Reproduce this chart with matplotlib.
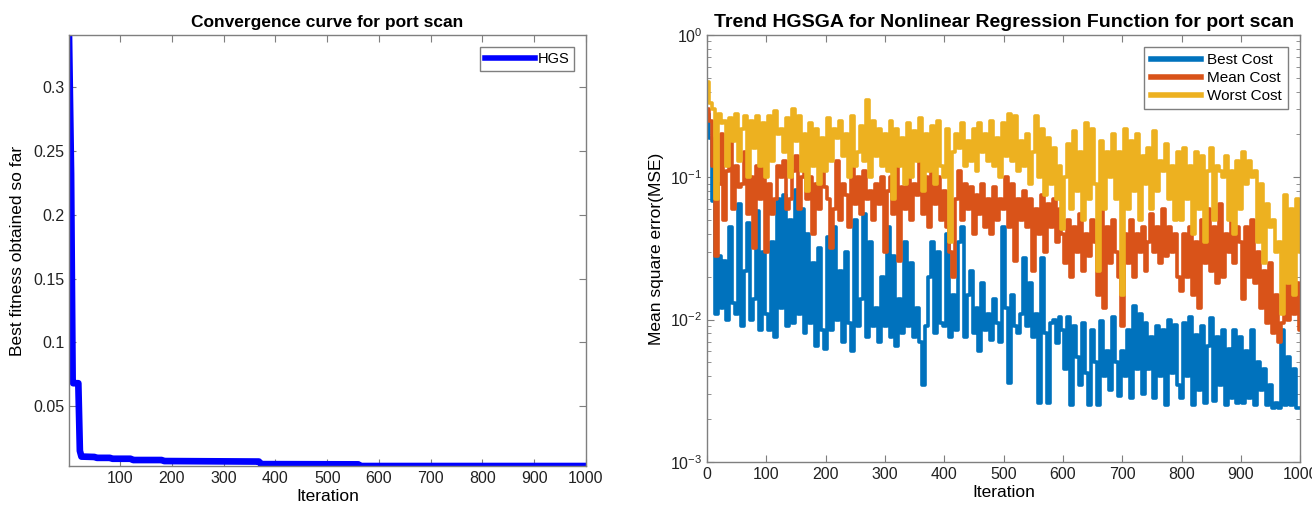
import numpy as np
import matplotlib
matplotlib.use("Agg")
import matplotlib.pyplot as plt
from matplotlib.ticker import LogLocator, NullFormatter

plt.rcParams['font.family'] = ['Liberation Sans', 'DejaVu Sans']

# ---- left panel: HGS convergence curve (change points of the best-so-far value)
hgs_iter = [1, 5, 8, 9, 19, 22, 25, 50, 55, 80, 85, 120, 125, 180, 185, 368, 372, 560, 564, 1000]
hgs_best = [0.34, 0.232, 0.07, 0.068, 0.068, 0.015, 0.0105, 0.0102, 0.0095, 0.0095, 0.0088,
            0.0088, 0.0078, 0.0078, 0.007, 0.0066, 0.0046, 0.0044, 0.0031, 0.0031]

# ---- right panel: HGSGA trend, sampled every 5 iterations (0..1000)
iters = np.arange(0, 1001, 5)

best_cost = [
    0.28, 0.19, 0.068, 0.011, 0.028, 0.012, 0.026, 0.010, 0.045, 0.013, 0.011, 0.065, 0.009, 0.022, 0.048, 0.010, 0.014, 0.058, 0.0085, 0.03,
    0.011, 0.0085, 0.035, 0.0075, 0.07, 0.012, 0.075, 0.009, 0.05, 0.0095, 0.082, 0.011, 0.06, 0.008, 0.04, 0.0095, 0.025, 0.0065, 0.032, 0.0085,
    0.0062, 0.038, 0.0085, 0.045, 0.010, 0.022, 0.007, 0.03, 0.0095, 0.006, 0.05, 0.009, 0.014, 0.055, 0.0075, 0.035, 0.009, 0.012, 0.007, 0.02,
    0.009, 0.045, 0.0075, 0.028, 0.0065, 0.014, 0.008, 0.035, 0.009, 0.025, 0.0075, 0.012, 0.007, 0.0035, 0.009, 0.02, 0.035, 0.008, 0.03, 0.0095,
    0.009, 0.04, 0.0075, 0.015, 0.0085, 0.035, 0.045, 0.0075, 0.015, 0.022, 0.008, 0.012, 0.006, 0.018, 0.0085, 0.011, 0.0072, 0.014, 0.0095, 0.007,
    0.045, 0.012, 0.0036, 0.015, 0.009, 0.008, 0.011, 0.027, 0.009, 0.018, 0.0075, 0.011, 0.0026, 0.027, 0.008, 0.0026, 0.0095, 0.01, 0.0068, 0.0105,
    0.0085, 0.0045, 0.0105, 0.0025, 0.009, 0.0055, 0.0035, 0.0095, 0.0042, 0.0025, 0.0085, 0.005, 0.0025, 0.0098, 0.004, 0.006, 0.0032, 0.0105, 0.005, 0.0029,
    0.006, 0.004, 0.0085, 0.0028, 0.0125, 0.0045, 0.011, 0.003, 0.0095, 0.0045, 0.0075, 0.0028, 0.009, 0.004, 0.0085, 0.0025, 0.01, 0.0042, 0.0092, 0.0035,
    0.0028, 0.0095, 0.004, 0.0105, 0.0025, 0.0078, 0.0032, 0.009, 0.0026, 0.0065, 0.0102, 0.0027, 0.0075, 0.0035, 0.0085, 0.0025, 0.0062, 0.0028, 0.0085, 0.0026,
    0.0075, 0.0026, 0.006, 0.0028, 0.0085, 0.0025, 0.005, 0.0032, 0.0045, 0.0025, 0.0035, 0.0024, 0.0026, 0.0024, 0.0085, 0.0025, 0.0055, 0.0025, 0.0045, 0.0024,
    0.0024,
]

mean_cost = [
    0.30, 0.25, 0.12, 0.028, 0.09, 0.2, 0.05, 0.11, 0.19, 0.06, 0.12, 0.085, 0.09, 0.15, 0.055, 0.10, 0.032, 0.12, 0.07, 0.15,
    0.03, 0.09, 0.055, 0.07, 0.12, 0.1, 0.13, 0.06, 0.07, 0.11, 0.14, 0.06, 0.1, 0.15, 0.07, 0.1, 0.04, 0.09, 0.06, 0.11,
    0.085, 0.07, 0.032, 0.06, 0.13, 0.05, 0.09, 0.075, 0.045, 0.12, 0.065, 0.1, 0.055, 0.11, 0.07, 0.08, 0.05, 0.09, 0.065, 0.1,
    0.03, 0.08, 0.1, 0.055, 0.12, 0.026, 0.085, 0.06, 0.11, 0.05, 0.09, 0.075, 0.14, 0.055, 0.1, 0.045, 0.12, 0.065, 0.1, 0.05,
    0.08, 0.045, 0.03, 0.02, 0.07, 0.11, 0.05, 0.09, 0.06, 0.085, 0.04, 0.075, 0.055, 0.09, 0.045, 0.07, 0.04, 0.085, 0.05, 0.07,
    0.06, 0.1, 0.045, 0.09, 0.026, 0.07, 0.05, 0.08, 0.045, 0.07, 0.022, 0.06, 0.04, 0.075, 0.03, 0.065, 0.045, 0.07, 0.035, 0.06,
    0.04, 0.025, 0.05, 0.02, 0.045, 0.03, 0.055, 0.022, 0.04, 0.028, 0.05, 0.035, 0.015, 0.06, 0.012, 0.045, 0.025, 0.05, 0.03, 0.02,
    0.009, 0.04, 0.025, 0.05, 0.02, 0.04, 0.03, 0.045, 0.022, 0.035, 0.055, 0.03, 0.045, 0.025, 0.06, 0.028, 0.045, 0.03, 0.04, 0.02,
    0.016, 0.04, 0.02, 0.045, 0.015, 0.035, 0.012, 0.05, 0.025, 0.06, 0.022, 0.045, 0.018, 0.065, 0.02, 0.04, 0.03, 0.06, 0.025, 0.045,
    0.035, 0.014, 0.045, 0.02, 0.05, 0.018, 0.03, 0.012, 0.022, 0.0095, 0.025, 0.008, 0.015, 0.007, 0.0095, 0.022, 0.01, 0.02, 0.011, 0.018,
    0.0085,
]

worst_cost = [
    0.47, 0.33, 0.3, 0.07, 0.28, 0.24, 0.25, 0.12, 0.26, 0.18, 0.28, 0.13, 0.22, 0.27, 0.1, 0.25, 0.16, 0.27, 0.12, 0.24,
    0.1, 0.27, 0.13, 0.29, 0.2, 0.22, 0.15, 0.26, 0.1, 0.3, 0.18, 0.27, 0.11, 0.2, 0.08, 0.24, 0.12, 0.22, 0.09, 0.19,
    0.11, 0.26, 0.13, 0.22, 0.19, 0.25, 0.14, 0.2, 0.1, 0.27, 0.12, 0.15, 0.23, 0.13, 0.35, 0.1, 0.25, 0.14, 0.22, 0.12,
    0.2, 0.11, 0.25, 0.07, 0.22, 0.12, 0.19, 0.09, 0.24, 0.1, 0.21, 0.13, 0.26, 0.08, 0.2, 0.11, 0.23, 0.09, 0.25, 0.12,
    0.1, 0.22, 0.035, 0.15, 0.2, 0.16, 0.24, 0.12, 0.18, 0.13, 0.22, 0.11, 0.24, 0.15, 0.2, 0.13, 0.25, 0.12, 0.19, 0.1,
    0.24, 0.14, 0.28, 0.13, 0.27, 0.11, 0.18, 0.12, 0.2, 0.09, 0.15, 0.27, 0.1, 0.22, 0.075, 0.19, 0.09, 0.16, 0.07, 0.12,
    0.043, 0.1, 0.17, 0.06, 0.21, 0.08, 0.15, 0.05, 0.24, 0.07, 0.22, 0.09, 0.022, 0.18, 0.06, 0.15, 0.1, 0.2, 0.07, 0.15,
    0.015, 0.22, 0.06, 0.18, 0.08, 0.2, 0.05, 0.14, 0.09, 0.16, 0.06, 0.21, 0.08, 0.13, 0.11, 0.17, 0.07, 0.12, 0.05, 0.15,
    0.05, 0.16, 0.07, 0.12, 0.04, 0.15, 0.06, 0.14, 0.035, 0.11, 0.16, 0.05, 0.12, 0.11, 0.1, 0.14, 0.05, 0.11, 0.04, 0.13,
    0.06, 0.15, 0.09, 0.13, 0.1, 0.11, 0.035, 0.09, 0.025, 0.065, 0.045, 0.05, 0.03, 0.035, 0.011, 0.075, 0.018, 0.06, 0.015, 0.07,
    0.03,
]

spine_col = '#7f7f7f'

fig = plt.figure(figsize=(13.12, 5.17), dpi=100)

# left axes
ax1 = fig.add_axes([0.0526, 0.0986, 0.394, 0.833])
ax1.plot(hgs_iter, hgs_best, color='blue', linewidth=4.8, label='HGS')
ax1.set_xlim(1, 1000)
ax1.set_ylim(0.0031, 0.3406)
ax1.set_xticks(range(100, 1001, 100))
ax1.set_yticks([0.05, 0.1, 0.15, 0.2, 0.25, 0.3])
ax1.set_yticklabels(['0.05', '0.1', '0.15', '0.2', '0.25', '0.3'])
ax1.set_title('Convergence curve for port scan', fontsize=12.5, fontweight='bold', pad=6)
ax1.set_xlabel('Iteration', fontsize=12.5, labelpad=2)
ax1.set_ylabel('Best fitness obtained so far', fontsize=12.5, labelpad=6)
ax1.legend(loc='upper right', fontsize=10.5, handlelength=3.4, handletextpad=0.2,
           fancybox=False, framealpha=1, edgecolor=spine_col, borderaxespad=0.8,
           borderpad=0.35)

# right axes
ax2 = fig.add_axes([0.539, 0.1064, 0.452, 0.826])
ax2.plot(iters, best_cost, color='#0072BD', linewidth=2.6, drawstyle='steps-mid', label='Best Cost')
ax2.plot(iters, mean_cost, color='#D95319', linewidth=2.6, drawstyle='steps-mid', label='Mean Cost')
ax2.plot(iters, worst_cost, color='#EDB120', linewidth=2.6, drawstyle='steps-mid', label='Worst Cost')
ax2.set_yscale('log')
ax2.set_xlim(0, 1000)
ax2.set_ylim(1e-3, 1)
ax2.set_xticks(range(0, 1001, 100))
ax2.yaxis.set_minor_locator(LogLocator(base=10, subs=np.arange(2, 10)))
ax2.yaxis.set_minor_formatter(NullFormatter())
ax2.set_title('Trend HGSGA for Nonlinear Regression Function for port scan', fontsize=14,
              fontweight='bold', pad=6)
ax2.set_xlabel('Iteration', fontsize=12.5, labelpad=2)
ax2.set_ylabel('Mean square error(MSE)', fontsize=12.5, labelpad=4)
ax2.legend(loc='upper right', fontsize=11, handlelength=3.3, handletextpad=0.4,
           fancybox=False, framealpha=1, edgecolor=spine_col, borderaxespad=0.8,
           labelspacing=0.25)

for ax in (ax1, ax2):
    for s in ax.spines.values():
        s.set_color(spine_col)
        s.set_linewidth(1.0)
    ax.tick_params(which='both', direction='in', top=True, right=True,
                   color=spine_col, labelsize=11.5, labelcolor='#222222')
    ax.tick_params(which='major', length=5)
    ax.tick_params(which='minor', length=3)
    for l in ax.get_legend().get_lines():
        l.set_linewidth(4)

fig.savefig('out.png', dpi=100)
